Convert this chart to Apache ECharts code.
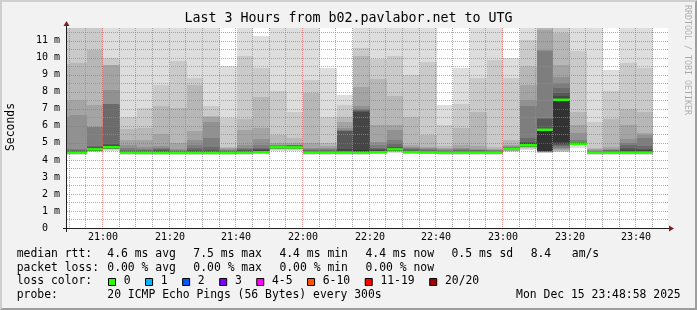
<!DOCTYPE html>
<html>
<head>
<meta charset="utf-8">
<script src="https://cdn.jsdelivr.net/npm/echarts@6/dist/echarts.min.js"></script>
<style>
html,body{margin:0;padding:0;background:#f2f2f2;}
#chart{width:697px;height:310px;}
</style>
</head>
<body>
<div id="chart"></div>
<script>
// ---------------- DATA ----------------
const titleText = 'Last 3 Hours from b02.pavlabor.net to UTG';
const yAxisTitle = 'Seconds';
const watermark = 'RRDTOOL / TOBI OETIKER';

// end time of each 5-minute step (step covers the 5 minutes before it)
const barEnds = ['20:50','20:55','21:00','21:05','21:10','21:15','21:20','21:25','21:30','21:35',
                 '21:40','21:45','21:50','21:55','22:00','22:05','22:10','22:15','22:20','22:25',
                 '22:30','22:35','22:40','22:45','22:50','22:55','23:00','23:05','23:10','23:15',
                 '23:20','23:25','23:30','23:35','23:40','23:45'];

// median rtt per step (ms)
const medianRtt = [4.42,4.42,4.62,4.75,4.42,4.41,4.41,4.41,4.41,4.41,
                   4.41,4.42,4.45,4.75,4.74,4.43,4.43,4.43,4.42,4.45,
                   4.62,4.46,4.44,4.43,4.43,4.43,4.43,4.65,4.86,5.77,
                   7.53,4.95,4.42,4.42,4.43,4.43];

// packet loss per step (pings lost out of 20)
const lossPerStep = [0,0,0,0,0,0,0,0,0,0,0,0,0,0,0,0,0,0,0,0,0,0,0,0,0,0,0,0,0,0,0,0,0,0,0,0];

// 20 sorted ping rtts per step (ms) - the "smoke"
const pings = [
 [4.30,4.33,4.35,4.36,4.37,4.38,4.39,4.40,4.40,4.41, 4.45,4.50,4.54,4.58,4.66,6.55,7.45,9.65,12.6,13.8],
 [4.30,4.33,4.35,4.36,4.37,4.38,4.39,4.40,4.40,4.41, 4.47,4.52,4.55,4.58,4.65,6.65,7.53,9.70,12.6,13.8],
 [4.45,4.48,4.50,4.51,4.52,4.53,4.54,4.55,4.55,4.56, 4.67,4.70,4.74,4.82,5.95,5.96,7.24,10.47,12.6,13.8],
 [4.55,4.60,4.62,4.64,4.65,4.66,4.67,4.68,4.69,4.70, 4.82,4.86,4.95,7.29,7.30,8.12,9.55,9.56,9.98,12.6],
 [4.30,4.33,4.35,4.36,4.37,4.38,4.39,4.40,4.40,4.41, 4.46,4.50,4.54,4.60,4.70,4.90,5.15,5.80,6.50,12.6],
 [4.30,4.33,4.35,4.36,4.37,4.38,4.39,4.39,4.40,4.40, 4.45,4.49,4.53,4.58,4.65,4.75,5.15,5.90,7.04,12.6],
 [4.30,4.33,4.35,4.36,4.37,4.38,4.39,4.39,4.40,4.40, 4.46,4.50,4.56,4.62,4.70,4.80,5.50,7.14,8.41,12.6],
 [4.30,4.33,4.35,4.36,4.37,4.38,4.39,4.39,4.40,4.40, 4.45,4.48,4.51,4.55,4.60,4.65,5.00,7.04,9.79,12.6],
 [4.30,4.33,4.35,4.36,4.37,4.38,4.39,4.39,4.40,4.40, 4.46,4.52,4.60,4.70,4.90,5.18,5.67,8.41,8.80,12.6],
 [4.30,4.33,4.35,4.36,4.37,4.38,4.39,4.39,4.40,4.40, 4.46,4.52,4.60,4.75,5.30,6.20,6.55,6.60,7.14,12.6],
 [4.30,4.33,4.35,4.36,4.37,4.38,4.39,4.39,4.40,4.40, 4.44,4.47,4.50,4.53,4.57,4.62,4.68,4.75,6.45,9.49],
 [4.30,4.33,4.35,4.36,4.37,4.38,4.39,4.40,4.40,4.41, 4.46,4.51,4.56,4.62,4.70,4.90,5.76,6.40,10.08,12.6],
 [4.33,4.36,4.38,4.39,4.40,4.41,4.42,4.43,4.43,4.44, 4.55,4.60,4.66,4.72,4.85,5.20,5.86,7.72,9.40,11.30],
 [4.55,4.60,4.63,4.65,4.66,4.67,4.68,4.69,4.70,4.71, 4.81,4.82,4.83,4.84,4.86,4.90,4.98,5.47,8.02,12.6],
 [4.55,4.60,4.63,4.65,4.66,4.67,4.68,4.69,4.70,4.71, 4.80,4.82,4.83,4.85,4.87,4.90,4.98,5.30,6.80,12.6],
 [4.31,4.34,4.36,4.37,4.38,4.39,4.40,4.41,4.41,4.42, 4.47,4.50,4.53,4.58,4.62,4.70,4.98,7.95,8.72,12.6],
 [4.31,4.34,4.36,4.37,4.38,4.39,4.40,4.41,4.41,4.42, 4.47,4.50,4.54,4.58,4.63,4.70,4.80,4.98,6.55,9.40],
 [4.31,4.34,4.36,4.37,4.38,4.39,4.40,4.41,4.41,4.42, 4.55,4.62,5.67,5.70,5.75,5.90,6.20,6.55,7.24,7.84],
 [4.30,4.33,4.35,4.36,4.37,4.38,4.39,4.40,4.40,4.41, 4.60,6.80,6.88,6.92,7.00,7.14,8.30,10.08,10.56,12.6],
 [4.33,4.36,4.38,4.39,4.40,4.41,4.42,4.43,4.43,4.44, 4.50,4.56,4.62,4.72,4.85,5.08,6.06,8.74,9.90,12.6],
 [4.42,4.46,4.48,4.50,4.51,4.52,4.53,4.54,4.55,4.56, 4.68,4.72,4.78,4.95,5.18,5.77,6.06,7.73,10.08,12.6],
 [4.34,4.37,4.39,4.40,4.41,4.42,4.43,4.44,4.44,4.45, 4.50,4.53,4.57,4.62,4.68,4.75,4.90,6.55,9.00,12.6],
 [4.32,4.35,4.37,4.38,4.39,4.40,4.41,4.42,4.42,4.43, 4.48,4.50,4.53,4.57,4.62,4.68,4.78,5.47,9.78,12.6],
 [4.31,4.34,4.36,4.37,4.38,4.39,4.40,4.41,4.41,4.42, 4.47,4.50,4.52,4.55,4.59,4.64,4.70,4.80,6.06,7.24],
 [4.31,4.34,4.36,4.37,4.38,4.39,4.40,4.41,4.41,4.42, 4.48,4.51,4.54,4.58,4.63,4.70,4.85,5.90,7.30,9.40],
 [4.31,4.34,4.36,4.37,4.38,4.39,4.40,4.41,4.41,4.42, 4.48,4.50,4.53,4.56,4.60,4.65,4.80,6.84,8.80,12.6],
 [4.31,4.34,4.36,4.37,4.38,4.39,4.40,4.41,4.41,4.42, 4.47,4.48,4.50,4.53,4.56,4.60,4.65,4.75,9.88,12.6],
 [4.45,4.50,4.52,4.54,4.56,4.58,4.59,4.60,4.61,4.62, 4.68,4.70,4.71,4.73,4.76,4.80,4.90,5.18,8.80,9.98],
 [4.60,4.65,4.70,4.73,4.75,4.77,4.78,4.80,4.81,4.82, 4.92,4.98,5.05,5.27,7.14,7.53,8.41,9.49,11.06,12.6],
 [4.40,4.43,4.45,4.46,4.47,4.48,4.49,4.50,4.52,4.55, 5.79,5.82,6.40,6.45,10.40,10.47,11.65,12.5,13.0,14.0],
 [4.45,4.48,4.52,4.57,4.65,4.70,4.82,4.87,4.92,5.08, 7.60,7.75,7.92,8.22,8.51,8.90,9.59,11.45,13.0,14.0],
 [4.70,4.85,4.87,4.88,4.88,4.89,4.89,4.90,4.90,4.91, 4.99,5.01,5.03,5.06,5.18,5.57,6.06,6.84,10.37,12.6],
 [4.30,4.33,4.35,4.36,4.37,4.38,4.39,4.40,4.40,4.41, 4.45,4.46,4.48,4.50,4.53,4.57,4.62,4.70,6.20,12.6],
 [4.30,4.33,4.35,4.36,4.37,4.38,4.39,4.40,4.40,4.41, 4.46,4.49,4.52,4.56,4.60,4.65,4.75,6.40,8.02,9.30],
 [4.31,4.34,4.36,4.37,4.38,4.39,4.40,4.41,4.41,4.42, 4.52,4.60,4.70,4.85,4.98,5.20,6.06,7.00,9.70,12.6],
 [4.31,4.34,4.36,4.37,4.38,4.39,4.40,4.41,4.41,4.42, 4.52,4.57,4.65,4.80,5.27,5.45,5.57,6.84,9.40,12.6]
];

// axis ticks
const xMajorTicks = ['21:00','21:20','21:40','22:00','22:20','22:40','23:00','23:20','23:40'];
const yTicks = [0,1,2,3,4,5,6,7,8,9,10,11];

// legend
const medianStats = ['4.6 ms avg','7.5 ms max','4.4 ms min','4.4 ms now','0.5 ms sd','8.4   am/s'];
const lossStats = ['0.00 % avg','0.00 % max','0.00 % min','0.00 % now'];
const lossLabels = ['0','1','2','3','4-5','6-10','11-19','20/20'];
const lossThresholds = [0,1,2,3,5,10,19,20];
const lossColors = ['#26ff00','#00b8ff','#0059ff','#7e00ff','#ff00ff','#ff5500','#ff0000','#a10000'];
const probeText = '20 ICMP Echo Pings (56 Bytes) every 300s';
const dateText = 'Mon Dec 15 23:48:58 2025';

// ---------------- STYLE ----------------
const FONT = '"DejaVu Sans Mono", monospace';
const bandColors = ['#dddddd','#cacaca','#b7b7b7','#a4a4a4','#919191','#7e7e7e','#6b6b6b','#585858','#454545','#323232'];
const xMin = 1249.35, xMax = 1429.6;   // minutes since midnight
const yMax = 11.75;
const stepMin = 5, barShiftMin = 0.25;
const W = 697, H = 310;

const toMin = s => { const p = s.split(':').map(Number); return p[0]*60 + p[1]; };

const smokeData = barEnds.map((t, i) => [toMin(t) - stepMin + barShiftMin, toMin(t) + barShiftMin].concat(pings[i]));
const medianData = barEnds.map((t, i) => [toMin(t) - stepMin + barShiftMin, toMin(t) + barShiftMin, medianRtt[i], lossPerStep[i]]);

const majorMins = xMajorTicks.map(toMin);
const gridData = [];
for (let t = Math.ceil(xMin / stepMin) * stepMin; t <= xMax; t += stepMin) {
  if (majorMins.indexOf(t) < 0) gridData.push([0, t, 0]);
}
for (let k = 1; k * 0.5 < yMax; k++) { if (k % 2) gridData.push([1, k * 0.5, 0]); }
majorMins.forEach(t => gridData.push([0, t, 1]));
yTicks.forEach(v => { if (v > 0) gridData.push([1, v, 1]); });

function lossColor(loss) {
  for (let i = 0; i < lossThresholds.length; i++) if (loss <= lossThresholds[i]) return lossColors[i];
  return lossColors[lossColors.length - 1];
}

function renderSmoke(params, api) {
  const x0 = Math.round(api.coord([api.value(0), 0])[0]);
  const x1 = Math.round(api.coord([api.value(1), 0])[0]);
  const children = [];
  for (let k = 0; k < 10; k++) {
    const lo = api.value(2 + k), hi = api.value(21 - k);
    const yTop = Math.round(api.coord([xMin, hi])[1]);
    const yBot = Math.round(api.coord([xMin, lo])[1]);
    if (yBot - yTop <= 0) continue;
    children.push({type: 'rect', shape: {x: x0, y: yTop, width: x1 - x0, height: yBot - yTop},
                   style: {fill: bandColors[k]}});
  }
  return {type: 'group', children};
}

function renderMedian(params, api) {
  const x0 = Math.round(api.coord([api.value(0), 0])[0]);
  const x1 = Math.round(api.coord([api.value(1), 0])[0]);
  const y = api.coord([xMin, api.value(2)])[1];
  return {type: 'rect', shape: {x: x0, y: y - 1.25, width: x1 - x0, height: 2.5},
          style: {fill: lossColor(api.value(3))}};
}

function renderGrid(params, api) {
  const cs = params.coordSys;
  const dir = api.value(0), val = api.value(1), major = api.value(2);
  let shape;
  if (dir === 0) {
    const x = Math.floor(api.coord([val, 0])[0]) + 0.5;
    shape = {x1: x, y1: cs.y, x2: x, y2: cs.y + cs.height};
  } else {
    const y = Math.round(api.coord([xMin, val])[1]) + 0.5;
    shape = {x1: cs.x, y1: y, x2: cs.x + cs.width, y2: y};
  }
  return {type: 'line', shape,
          style: {stroke: major ? 'rgba(222,79,79,0.6)' : 'rgba(143,143,143,0.75)', lineWidth: 1, lineDash: [1, 1]}};
}

function renderAxes(params, api) {
  const cs = params.coordSys;
  const X0 = cs.x, Y0 = cs.y + cs.height, X1 = cs.x + cs.width, Y1 = cs.y;
  return {type: 'group', children: [
    {type: 'line', shape: {x1: X0 - 4, y1: Y0 + 0.5, x2: X1 + 1, y2: Y0 + 0.5}, style: {stroke: '#1f1f1f', lineWidth: 1}},
    {type: 'line', shape: {x1: X0 - 0.5, y1: Y0 + 4, x2: X0 - 0.5, y2: Y1 - 2}, style: {stroke: '#1f1f1f', lineWidth: 1}},
    {type: 'polygon', shape: {points: [[X1 + 1, Y0 - 2.5], [X1 + 1, Y0 + 3.5], [X1 + 6, Y0 + 0.5]]}, style: {fill: '#801f1f'}},
    {type: 'polygon', shape: {points: [[X0 - 3.5, Y1 - 2], [X0 + 2.5, Y1 - 2], [X0 - 0.5, Y1 - 7]]}, style: {fill: '#801f1f'}}
  ]};
}

function renderXLabel(params, api) {
  const cs = params.coordSys;
  const x = Math.floor(api.coord([api.value(0), 0])[0]) + 1;
  return {type: 'text', x: x, y: cs.y + cs.height + 9.8,
          style: {text: xMajorTicks[params.dataIndex], fontFamily: FONT, fontSize: 10, fill: '#000',
                  align: 'center', verticalAlign: 'middle'}};
}

// ---------------- LEGEND GRAPHICS ----------------
const LF = 11.4, CW = LF * 0.6021;
const legendX0 = 16.7, valueX0 = 107.3, itemGap = 17.4;
const rowY = [254.4, 267.9, 281.5, 295.0];
const graphics = [];
function txt(x, y, s, opts) {
  graphics.push(Object.assign({type: 'text', x: x, y: y, silent: true,
    style: Object.assign({text: s, fontFamily: FONT, fontSize: LF, fill: '#000', align: 'left', verticalAlign: 'middle'}, (opts && opts.style) || {})},
    (opts && opts.el) || {}));
}
// 3D border
graphics.push({type: 'polygon', silent: true, shape: {points: [[0,0],[W,0],[W-2,2],[2,2],[2,H-2],[0,H]]}, style: {fill: '#cfcfcf'}});
graphics.push({type: 'polygon', silent: true, shape: {points: [[0,H],[W,H],[W,0],[W-2,2],[W-2,H-2],[2,H-2]]}, style: {fill: '#9e9e9e'}});
// title
txt(348.5, 18.4, titleText, {style: {fontSize: 13.3, align: 'center'}});
// y title
txt(11, 127, yAxisTitle, {style: {align: 'center'}, el: {rotation: Math.PI / 2}});
// watermark
txt(687.5, 5, watermark, {style: {fontSize: 8.3, fill: 'rgba(0,0,0,0.3)'}, el: {rotation: -Math.PI / 2}});
// row 1
txt(legendX0, rowY[0], 'median rtt:');
(function () { let x = valueX0; medianStats.forEach(s => { txt(x, rowY[0], s); x += s.length * CW + itemGap; }); })();
// row 2
txt(legendX0, rowY[1], 'packet loss:');
(function () { let x = valueX0; lossStats.forEach(s => { txt(x, rowY[1], s); x += s.length * CW + itemGap; }); })();
// row 3
txt(legendX0, rowY[2], 'loss color:');
(function () {
  let x = 108;
  lossLabels.forEach((s, i) => {
    graphics.push({type: 'rect', silent: true, shape: {x: x + 0.5, y: 278.5, width: 7, height: 7},
                   style: {fill: lossColors[i], stroke: '#000', lineWidth: 1}});
    txt(x + 15.7, rowY[2], s);
    x += 15.7 + s.length * CW + 14.5;
  });
})();
// row 4
txt(legendX0, rowY[3], 'probe:');
txt(valueX0, rowY[3], probeText);
txt(680.7, rowY[3], dateText, {style: {align: 'right'}});

// ---------------- CHART ----------------
const chart = echarts.init(document.getElementById('chart'), null, {renderer: 'canvas'});
chart.setOption({
  animation: false,
  backgroundColor: '#f2f2f2',
  grid: {left: 67, right: 29, top: 28, bottom: 82, show: true, backgroundColor: '#ffffff', borderWidth: 0},
  xAxis: {type: 'value', min: xMin, max: xMax, show: false},
  yAxis: {type: 'value', min: 0, max: yMax, interval: 1,
          axisLine: {show: false}, axisTick: {show: false}, splitLine: {show: false},
          axisLabel: {show: true, showMaxLabel: false, margin: 7, fontFamily: FONT, fontSize: 10, color: '#000',
                      formatter: v => (v === 0 ? '0  ' : v + ' m')}},
  series: [
    {type: 'custom', name: 'smoke', renderItem: renderSmoke, data: smokeData, clip: true, z: 2, silent: true},
    {type: 'custom', name: 'median', renderItem: renderMedian, data: medianData, clip: true, z: 3, silent: true},
    {type: 'custom', name: 'grid', renderItem: renderGrid, data: gridData, clip: false, z: 4, silent: true},
    {type: 'custom', name: 'axes', renderItem: renderAxes, data: [[xMin, 0]], clip: false, z: 5, silent: true},
    {type: 'custom', name: 'xlabels', renderItem: renderXLabel, data: majorMins.map(t => [t, 0]), clip: false, z: 5, silent: true}
  ],
  graphic: {elements: graphics}
});
</script>
</body>
</html>
